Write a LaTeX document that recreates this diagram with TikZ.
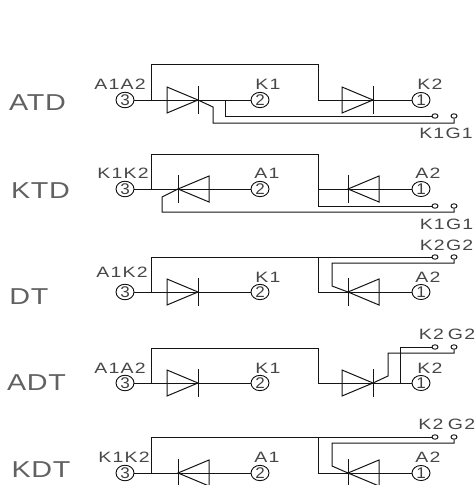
\documentclass[tikz,border=0pt]{standalone}
\usepackage{fontspec}
\usetikzlibrary{shapes.geometric}
\newfontfamily\lab[FakeStretch=1.3,LetterSpace=8]{Liberation Sans}
\newfontfamily\labbig[FakeStretch=1.25,LetterSpace=3]{Liberation Sans}
\newfontfamily\num[FakeStretch=1.1]{Liberation Sans}
\newcommand{\diodeR}[2]{\draw[wire] (#1,#2-13) -- (#1+31,#2) -- (#1,#2+13) -- cycle; \draw[wire] (#1+31,#2-14) -- (#1+31,#2+14);}
\newcommand{\diodeL}[2]{\draw[wire] (#1+31,#2-13) -- (#1,#2) -- (#1+31,#2+13) -- cycle; \draw[wire] (#1,#2-14) -- (#1,#2+14);}
\tikzset{
  wire/.style={draw=black!92,line width=1pt,line join=miter},
  big/.style={inner sep=0,anchor=center,font=\labbig\fontsize{23}{24}\selectfont,text=black!62},
  small/.style={inner sep=0,anchor=center,font=\lab\fontsize{15}{16}\selectfont,text=black!72},
  pin/.style={ellipse,draw=black!95,line width=0.9pt,minimum width=18pt,minimum height=13.5pt,inner sep=0,font=\num\fontsize{15.5}{16}\selectfont,text=black!75},
  term/.style={ellipse,draw=black!95,line width=0.9pt,minimum width=6pt,minimum height=4.5pt,inner sep=0}
}
\begin{document}
\begin{tikzpicture}[x=1pt,y=-1pt]
\useasboundingbox (0,0) rectangle (475,485);
% ---------- ATD
\node[big] (lA) at (37.5,103) {ATD};
\node[small] (lAa) at (120,84) {A1A2};
\node[small] (lAb) at (268,84) {K1};
\node[small] (lAc) at (430,84) {K2};
\node[small] (lAd) at (446,133) {K1G1};
\node[pin] (a3) at (125,100) {3};
\node[pin] (a2) at (260,100) {2};
\node[pin] (a1) at (421,100) {1};
\node[term] (at1) at (435,116) {};
\node[term] (at2) at (454,116) {};
\diodeR{167}{100}
\diodeR{342}{100}
\draw[wire] (a3) -- (a2);
\draw[wire] (151,100) |- (318,64) |- (a1);
\draw[wire] (198,100) -- (213,107) |- (350,123) -| (at2);
\draw[wire] (225,100) |- (at1);
% ---------- KTD
\node[big] (lK) at (40.5,191) {KTD};
\node[small] (lKa) at (123,173) {K1K2};
\node[small] (lKb) at (267,173) {A1};
\node[small] (lKc) at (428,173) {A2};
\node[small] (lKd) at (446.5,224) {K1G1};
\node[pin] (b3) at (125,189) {3};
\node[pin] (b2) at (260,189) {2};
\node[pin] (b1) at (421,189) {1};
\node[term] (bt1) at (435,206) {};
\node[term] (bt2) at (454,206) {};
\diodeL{178}{189}
\diodeL{348}{189}
\draw[wire] (b3) -- (b2);
\draw[wire] (151,189) |- (318,154) -- (318,189) -- (b1);
\draw[wire] (318,189) |- (bt1);
\draw[wire] (178,189) -- (162,197) |- (350,212) -| (bt2);
% ---------- DT
\node[big] (lD) at (29,297) {DT};
\node[small] (lDa) at (122,272) {A1K2};
\node[small] (lDb) at (268,277) {K1};
\node[small] (lDc) at (428,277) {A2};
\node[small] (lDd) at (446.5,245) {K2G2};
\node[pin] (c3) at (125,292) {3};
\node[pin] (c2) at (260,292) {2};
\node[pin] (c1) at (421,292) {1};
\node[term] (ct1) at (435,257) {};
\node[term] (ct2) at (454,257) {};
\diodeR{167}{292}
\diodeL{348}{292}
\draw[wire] (c3) -- (c2);
\draw[wire] (151,292) |- (ct1);
\draw[wire] (318,257) |- (c1);
\draw[wire] (348,292) -- (332,286) |- (400,263) -| (ct2);
% ---------- ADT
\node[big] (lE) at (36.5,383) {ADT};
\node[small] (lEa) at (120,368) {A1A2};
\node[small] (lEb) at (268,368) {K1};
\node[small] (lEc) at (430,368) {K2};
\node[small] (lEd) at (431.5,334) {K2};
\node[small] (lEe) at (461.5,334) {G2};
\node[pin] (d3) at (125,383) {3};
\node[pin] (d2) at (260,383) {2};
\node[pin] (d1) at (421,383) {1};
\node[term] (dt1) at (435,347) {};
\node[term] (dt2) at (454,347) {};
\diodeR{167}{383}
\diodeR{342}{383}
\draw[wire] (d3) -- (d2);
\draw[wire] (151,383) |- (318,348) |- (d1);
\draw[wire] (373,383) -- (388,376) |- (430,353) -| (dt2);
\draw[wire] (400,383) |- (dt1);
% ---------- KDT
\node[big] (lF) at (41,470) {KDT};
\node[small] (lFa) at (124,457) {K1K2};
\node[small] (lFb) at (267,457) {A1};
\node[small] (lFc) at (428,457) {A2};
\node[small] (lFd) at (431,424) {K2};
\node[small] (lFe) at (461.5,424) {G2};
\node[pin] (e3) at (125,473) {3};
\node[pin] (e2) at (260,473) {2};
\node[pin] (e1) at (421,473) {1};
\node[term] (et1) at (435,437) {};
\node[term] (et2) at (454,437) {};
\diodeL{178}{473}
\diodeL{348}{473}
\draw[wire] (e3) -- (e2);
\draw[wire] (151,473) |- (et1);
\draw[wire] (318,438) |- (e1);
\draw[wire] (348,473) -- (332,466) |- (400,443) -| (et2);
\end{tikzpicture}
\end{document}
